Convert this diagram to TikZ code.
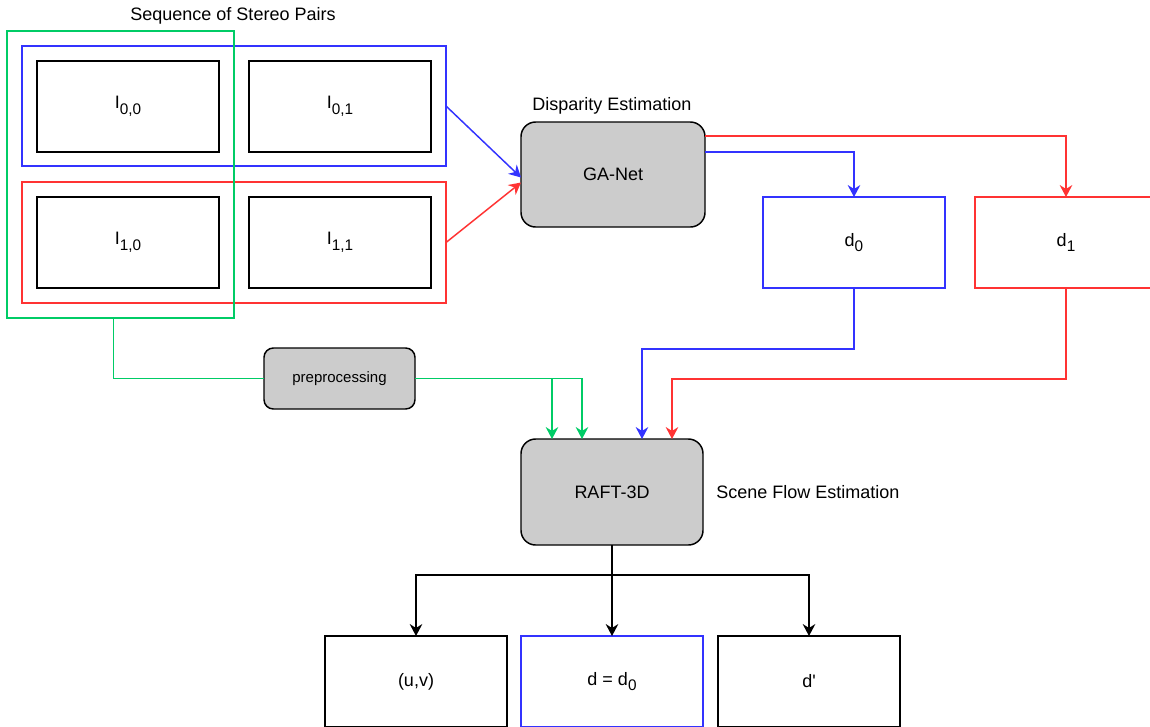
\documentclass[tikz,border=0pt]{standalone}
\usepackage{fontspec}
\setmainfont{Liberation Sans}
\usetikzlibrary{arrows.meta,calc}

\definecolor{bl}{HTML}{3333FF}
\definecolor{rd}{HTML}{FF3333}
\definecolor{gr}{HTML}{00CC66}
\definecolor{boxgray}{HTML}{CCCCCC}

% node given by its pixel corners: style, name, x1, y1, x2, y2, text
\newcommand\pxnode[7]{%
  \node[#1, minimum width={(#5-#3)*0.75pt}, minimum height={(#6-#4)*0.75pt}]
    (#2) at ({(#3+#5)/2},{(#4+#6)/2}) {#7};}
% lowered, smaller index text
\newcommand\idx[1]{\raisebox{-0.32em}{\fontsize{11.5}{12}\selectfont #1}}

\begin{document}
\begin{tikzpicture}[x=0.75pt, y=-0.75pt,
  font=\fontsize{13.5}{16}\selectfont,
  base/.style={inner sep=0pt, outer sep=0pt},
  imgbox/.style={base, draw=black, line width=1.3pt},
  bluebox/.style={base, draw=bl, line width=1.1pt},
  redbox/.style={base, draw=rd, line width=1.1pt},
  greenbox/.style={base, draw=gr, line width=1.1pt},
  proc/.style={base, draw=black, fill=boxgray, line width=1.1pt, rounded corners=11pt},
  smallproc/.style={proc, rounded corners=7pt, font=\fontsize{11.25}{13}\selectfont},
  caption/.style={inner sep=0pt},
  link/.style={line width=1.1pt, -{Stealth[length=9pt, width=9.5pt, inset=3pt]}},
  plainlink/.style={line width=1.2pt}
]
\useasboundingbox (0,0) rectangle (1150,726);

% input stereo pairs
\pxnode{bluebox}{pair0}{22}{46}{446}{166}{}
\pxnode{redbox}{pair1}{22}{182}{446}{303}{}
\pxnode{greenbox}{seq}{7}{31}{234}{318}{}
\pxnode{imgbox}{i00}{37}{61}{219}{152}{I\idx{0,0}}
\pxnode{imgbox}{i01}{249}{61}{431}{152}{I\idx{0,1}}
\pxnode{imgbox}{i10}{37}{197}{219}{288}{I\idx{1,0}}
\pxnode{imgbox}{i11}{249}{197}{431}{288}{I\idx{1,1}}
\node[caption] (seqlabel) at (233,16) {Sequence of Stereo Pairs};

% disparity estimation
\pxnode{proc}{ganet}{521}{122}{705}{227}{GA-Net}
\node[caption] (displabel) at (612,106) {Disparity Estimation};
\pxnode{bluebox}{d0}{763}{197}{945}{288}{d\idx{0}}
\pxnode{redbox}{d1}{975}{197}{1157}{288}{d\idx{1}}

% preprocessing and scene flow
\pxnode{smallproc}{prep}{264}{348}{415}{409}{preprocessing}
\pxnode{proc}{raft}{521}{439}{703}{545}{RAFT-3D}
\node[caption, anchor=west] (sflabel) at (716,492) {Scene Flow Estimation};

% outputs
\pxnode{imgbox}{uv}{325}{636}{507}{727}{(u,v)}
\pxnode{bluebox}{dd}{521}{636}{703}{727}{d = d\idx{0}}
\pxnode{imgbox}{dp}{718}{636}{900}{727}{d\textquotesingle}

% connectors
\draw[link, bl] (pair0.east) -- ($(ganet.west)+(0,3)$);
\draw[link, rd] (pair1.east) -- ($(ganet.west)+(0,8)$);
\draw[link, bl] ($(ganet.east)+(0,-22.5)$) -| (d0.north);
\draw[link, rd] ($(ganet.east)+(0,-38.5)$) -| (d1.north);

\draw[plainlink, gr] ($(seq.south)+(-7,0)$) |- (prep.west);
\draw[link, gr] (prep.east) -| ($(raft.north)+(-60,0)$);
\draw[link, gr] (prep.east) -| ($(raft.north)+(-30,0)$);
\draw[link, bl] (d0.south) -- ++(0,61) -| ($(raft.north)+(30,0)$);
\draw[link, rd] (d1.south) -- ++(0,91) -| ($(raft.north)+(60,0)$);

\draw[link] (raft.south) -- ++(0,30) -| (uv.north);
\draw[link] (raft.south) -- (dd.north);
\draw[link] (raft.south) -- ++(0,30) -| (dp.north);
\end{tikzpicture}
\end{document}
